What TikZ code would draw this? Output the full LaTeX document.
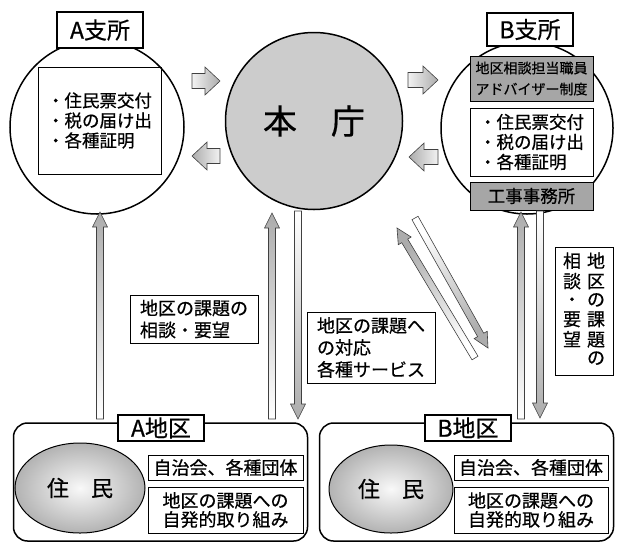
\documentclass[tikz,border=0pt]{standalone}
\usepackage{fontspec}
\setmainfont{Noto Sans CJK JP}[FakeBold=0.6]
\usetikzlibrary{calc,shapes.geometric}

\newcommand{\fatarrow}[7][white]{%
  \coordinate (hb) at ($(#3)!#7!(#2)$);
  \draw[draw=black!75, line width=0.6pt, top color=gray!65, bottom color=#1, shading angle=#4]
    ($(#2)!#5!90:(#3)$) -- ($(hb)!#5!90:(#3)$) -- ($(hb)!#6!90:(#3)$) -- (#3)
    -- ($(hb)!#6!-90:(#3)$) -- ($(hb)!#5!-90:(#3)$) -- ($(#2)!#5!-90:(#3)$) -- cycle;}

\begin{document}
\begin{tikzpicture}[x=1pt,y=-1pt,
  office/.style={circle, draw, line width=1.5pt, inner sep=0pt},
  tag/.style={draw, line width=1.5pt, fill=white, inner sep=0pt, minimum width=86, font=\fontsize{23}{23}\selectfont},
  box/.style={draw, line width=0.8pt, inner sep=0pt, align=left, font=\fontsize{17.5}{20}\selectfont},
  graybox/.style={box, fill=gray!70, align=center},
  note/.style={box, font=\fontsize{18}{22}\selectfont},
  district/.style={draw, line width=1.5pt, rounded corners=14, minimum width=294, minimum height=118},
  people/.style={ellipse, draw, line width=1pt, shading=radial, inner color=gray!5, outer color=gray!60, font=\fontsize{22}{22}\selectfont}]
\useasboundingbox (0,0) rectangle (617,544);

\node[office, minimum size=174] (A) at (97,127) {};
\node[office, minimum size=177, fill=gray!40, font=\fontsize{34}{34}\selectfont] (H) at (314,121) {本\hspace{1em}庁};
\node[office, minimum size=172] (B) at (527,128) {};

\node[box, minimum width=123, minimum height=107] (Alist) at (99.5,120.5) {・住民票交付\\・税の届け出\\・各種証明};
\node[tag, minimum height=36] (Atag) at (100,30) {A支所};

\node[graybox, minimum width=123, minimum height=45, font=\fontsize{14}{21}\selectfont] (Badv) at (531.5,78.5) {地区相談担当職員\\アドバイザー制度};
\node[box, fill=white, minimum width=123, minimum height=68] (Blist) at (531.5,142) {・住民票交付\\・税の届け出\\・各種証明};
\node[graybox, minimum width=123, minimum height=28] (Bwork) at (531.5,196) {工事事務所};
\node[tag, minimum height=33] (Btag) at (530,29.5) {B支所};

\node[district] (Aku) at (160.5,482) {};
\node[tag, minimum height=26] (Akutag) at (161,428) {A地区};
\node[people, minimum width=130, minimum height=90] (Ares) at (80,488) {住　民};
\node[box, align=center, minimum width=155, minimum height=25, font=\fontsize{18}{20}\selectfont] (Agrp) at (225.5,467.5) {自治会、各種団体};
\node[box, align=center, minimum width=155, minimum height=46, font=\fontsize{18}{19}\selectfont] (Aact) at (225.5,510) {地区の課題への\\自発的取り組み};

\node[district] (Bku) at (466.5,482) {};
\node[tag, minimum height=26] (Bkutag) at (468,428) {B地区};
\node[people, minimum width=124, minimum height=88] (Bres) at (391,489) {住　民};
\node[box, align=center, minimum width=154, minimum height=25, font=\fontsize{18}{20}\selectfont] (Bgrp) at (531,467.5) {自治会、各種団体};
\node[box, align=center, minimum width=154, minimum height=46, font=\fontsize{18}{19}\selectfont] (Bact) at (531,510) {地区の課題への\\自発的取り組み};

\node[note, minimum width=128, minimum height=48] (req) at (194,319) {地区の課題の\\相談・要望};
\node[note, minimum width=128, minimum height=71] (svc) at (371,347.5) {地区の課題へ\\の対応\\各種サービス};
\node[box, minimum width=58, minimum height=128, font=\fontsize{18}{18}\selectfont] (reqv) at (584,311)
  {\renewcommand{\arraystretch}{0.97}\begin{tabular}{@{}c@{\hspace{6pt}}c@{}}相&地\\談&区\\・&の\\要&課\\望&題\\&の\end{tabular}};

\coordinate (ar1) at (192,81);  \coordinate (ar2) at (220,81);
\coordinate (al1) at (220,156); \coordinate (al2) at (192,156);
\coordinate (br1) at (408,80);  \coordinate (br2) at (438,80);
\coordinate (bl1) at (438,157); \coordinate (bl2) at (409,157);
\fatarrow[gray!10]{ar1}{ar2}{-90}{7.5pt}{14pt}{15pt}
\fatarrow[gray!10]{al1}{al2}{90}{7.5pt}{14pt}{15pt}
\fatarrow[gray!10]{br1}{br2}{-90}{7.5pt}{14pt}{15pt}
\fatarrow[gray!10]{bl1}{bl2}{90}{7.5pt}{14pt}{15pt}

\coordinate (u1) at (100,419); \coordinate (u2) at (100,212);
\coordinate (v1) at (272,419); \coordinate (v2) at (272,213);
\coordinate (d1) at (298,211); \coordinate (d2) at (298,419);
\coordinate (w1) at (521,419); \coordinate (w2) at (521,212);
\coordinate (e1) at (540,211); \coordinate (e2) at (540,418);
\coordinate (g1) at (475,358); \coordinate (g2) at (397,228);
\coordinate (f1) at (415,218); \coordinate (f2) at (488,348);
\fatarrow{u1}{u2}{0}{3.5pt}{7.5pt}{15pt}
\fatarrow{v1}{v2}{0}{3.5pt}{7.5pt}{15pt}
\fatarrow{d1}{d2}{180}{3.5pt}{7.5pt}{15pt}
\fatarrow{w1}{w2}{0}{3.5pt}{7.5pt}{15pt}
\fatarrow{e1}{e2}{180}{3.5pt}{7.5pt}{15pt}
\fatarrow{g1}{g2}{31}{3.5pt}{7.5pt}{15pt}
\fatarrow{f1}{f2}{-151}{3.5pt}{7.5pt}{15pt}
\end{tikzpicture}
\end{document}
